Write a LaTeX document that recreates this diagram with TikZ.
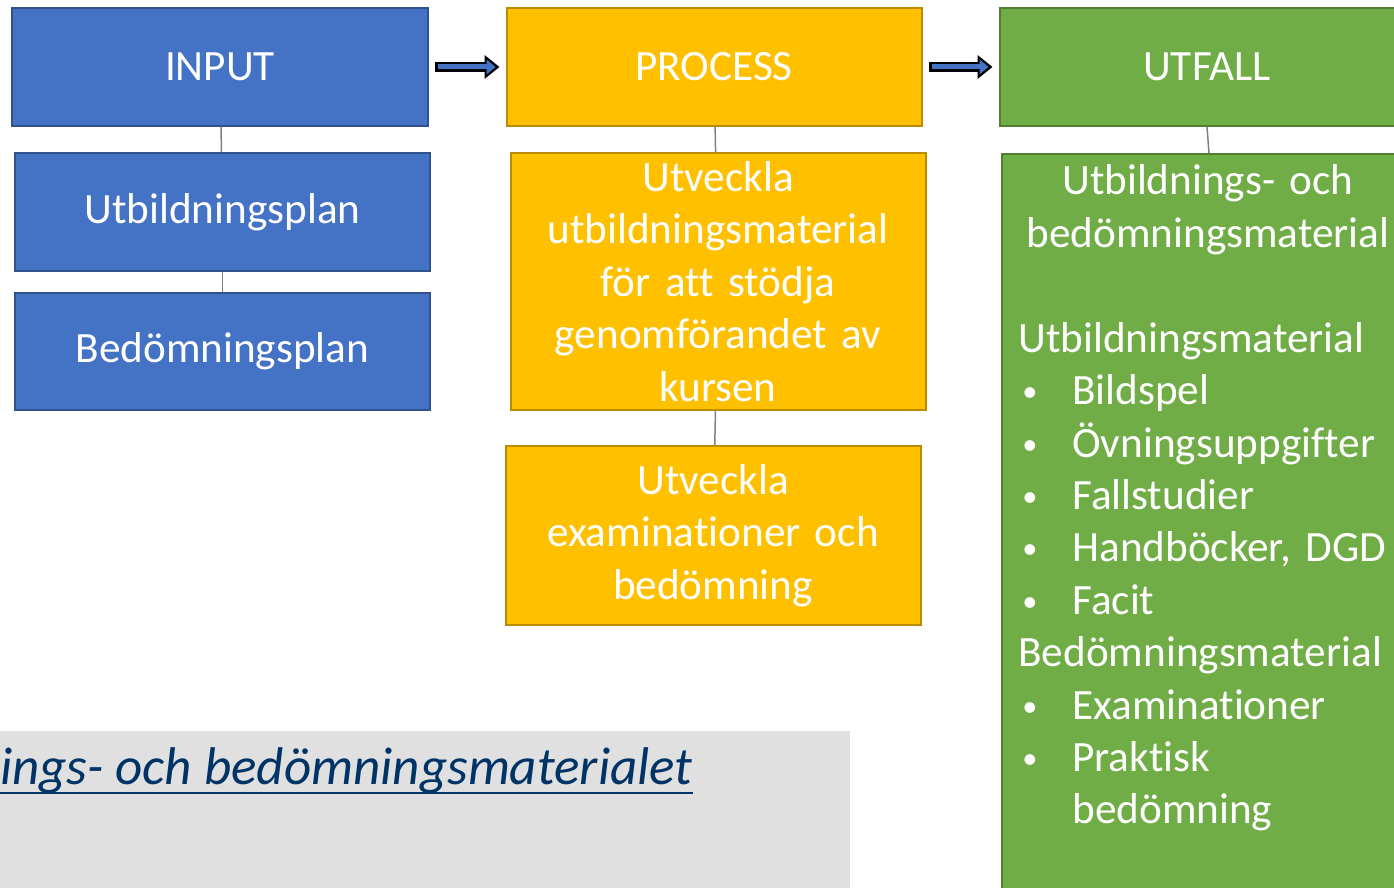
\documentclass[tikz,border=0pt]{standalone}
\usepackage{fontspec}
\setmainfont{Carlito}[Ligatures=NoCommon]
\usetikzlibrary{arrows.meta}
\frenchspacing

\definecolor{inblue}{HTML}{4472C4}
\definecolor{inborder}{HTML}{2F528F}
\definecolor{procyellow}{HTML}{FFC000}
\definecolor{procborder}{HTML}{BC8C00}
\definecolor{resgreen}{HTML}{70AD47}
\definecolor{resborder}{HTML}{507E32}
\definecolor{linkgray}{HTML}{808080}
\definecolor{notegray}{HTML}{E0E0E0}
\definecolor{notetext}{HTML}{003366}

\newcommand{\boxfont}{\fontsize{24.6}{29.8}\selectfont}
\newcommand{\bull}{\makebox[1.08cm][l]{\hspace{0.08cm}\raisebox{0.06cm}{\scalebox{0.7}{\textbullet}}}}

\begin{document}
\begin{tikzpicture}[
    box/.style={draw, line width=0.04cm, inner sep=0pt, text=white, font=\boxfont,
                text width=8cm, align=center, minimum width=8.3cm},
    inbox/.style={box, fill=inblue, draw=inborder},
    procbox/.style={box, fill=procyellow, draw=procborder},
    resbox/.style={box, fill=resgreen, draw=resborder},
    link/.style={draw=linkgray, line width=0.03cm},
    arrowout/.style={line width=0.20cm, black, -{Triangle[length=0.30cm,width=0.46cm]},
                     shorten <=0.13cm, shorten >=0.12cm},
    arrowin/.style={line width=0.10cm, inblue, -{Triangle[length=0.18cm,width=0.29cm]},
                    shorten <=0.18cm, shorten >=0.20cm}
  ]
  \useasboundingbox (0,0) rectangle (27.88,17.76);
  \clip (0,0) rectangle (27.88,17.76);
  % input column
  \node[inbox, minimum height=2.36cm] (in) at (4.40,16.42) {INPUT};
  \node[inbox, minimum height=2.36cm] (plan1) at (4.45,13.52) {Utbildningsplan};
  \node[inbox, minimum height=2.34cm] (plan2) at (4.45,10.73) {Bedömningsplan};
  % process column
  \node[procbox, minimum height=2.36cm] (proc) at (14.28,16.42) {PROCESS};
  \node[procbox, minimum height=5.14cm] (dev1) at (14.36,12.13)
    {Utveckla\\utbildningsmaterial\\för att stödja\\genomförandet av\\kursen};
  \node[procbox, minimum height=3.58cm] (dev2) at (14.26,7.05)
    {Utveckla\\examinationer och\\bedömning};
  % outcome column
  \node[resbox, minimum height=2.36cm] (res) at (24.14,16.42) {UTFALL};
  \node[resbox, anchor=north, minimum height=16cm] (resall) at (24.18,14.70) {};
  \node[text=white, font=\boxfont, text width=8.2cm, align=center, inner sep=0pt, anchor=base]
    (restitle) at (24.16,13.86) {Utbildnings- och\\bedömningsmaterial};
  \node[text=white, font=\boxfont, text width=7.5cm, align=left, inner sep=0pt, anchor=base west]
    (reslist) at (20.36,10.71)
    {Utbildningsmaterial\\
     \bull Bildspel\\
     \bull Övningsuppgifter\\
     \bull Fallstudier\\
     \bull Handböcker, DGD\\
     \bull Facit\\
     Bedömningsmaterial\\
     \bull Examinationer\\
     \bull Praktisk\\
     \hspace*{1.08cm}bedömning};
  % links
  \draw[link] (in) -- (plan1);
  \draw[link] (plan1) -- (plan2);
  \draw[link] (proc) -- (dev1);
  \draw[link] (dev1) -- (dev2);
  \draw[link] (res.south) -- (resall.north);
  % arrows
  \draw[arrowout] (in.east) -- (proc.west);
  \draw[arrowin] (in.east) -- (proc.west);
  \draw[arrowout] (proc.east) -- (res.west);
  \draw[arrowin] (proc.east) -- (res.west);
  % note
  \fill[notegray] (0,0) rectangle (17.0,3.14);
  \node[text=notetext, font=\fontsize{30.2}{36}\selectfont\itshape, inner sep=0pt, anchor=base east]
    (note) at (13.86,2.06) {ings- och bedömningsmaterialet};
  \draw[notetext, line width=0.05cm] ([yshift=-0.16cm]note.base west) -- ([yshift=-0.16cm]note.base east);
\end{tikzpicture}
\end{document}
